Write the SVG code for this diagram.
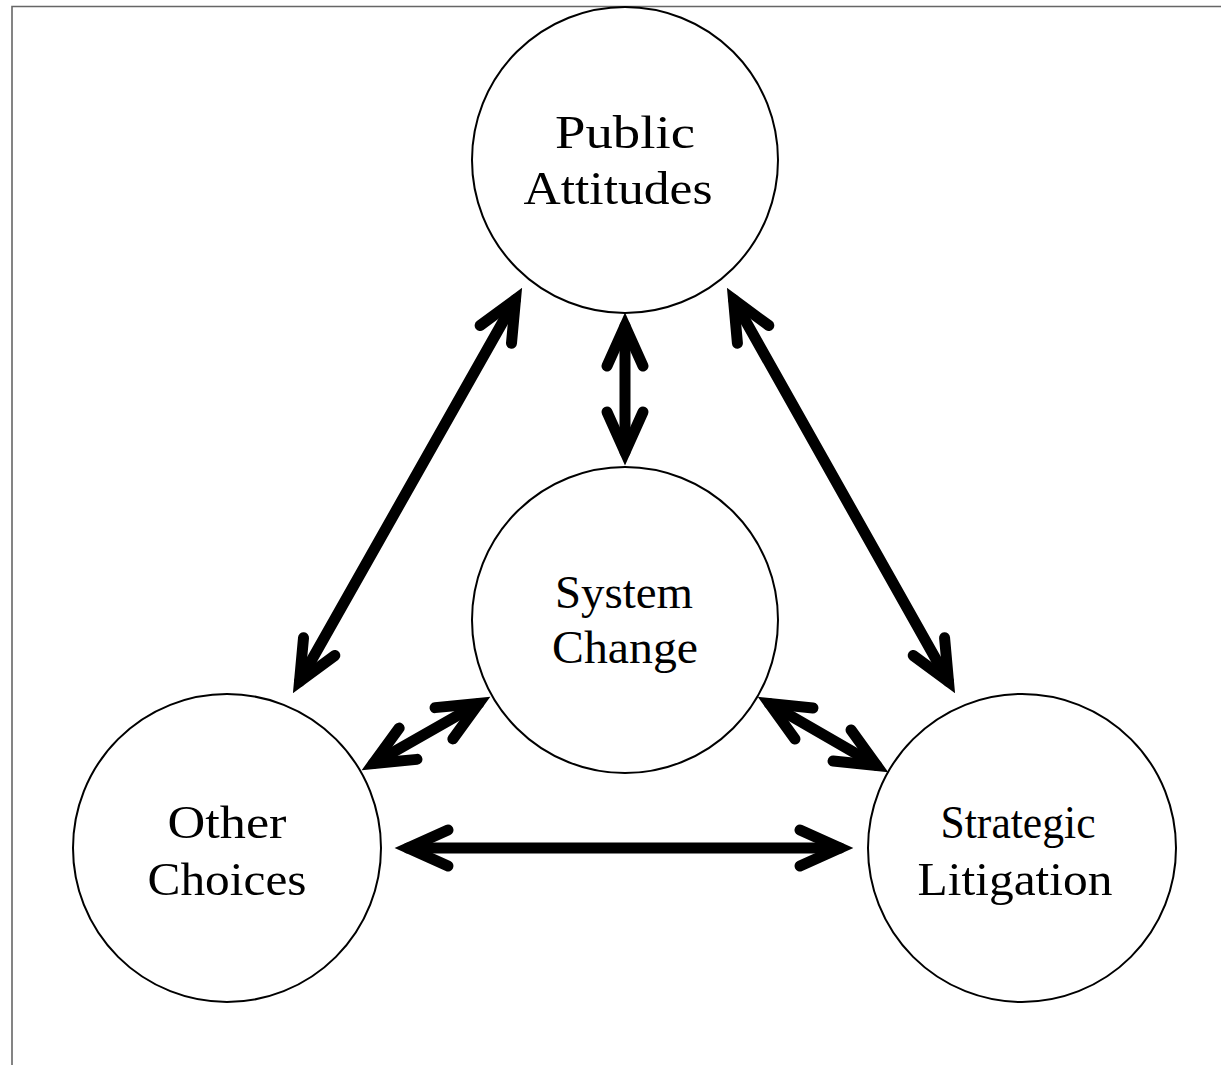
<svg xmlns="http://www.w3.org/2000/svg" width="1221" height="1065" viewBox="0 0 1221 1065">
<style>
.node circle{fill:#fff;stroke:#000;stroke-width:2}
.node text{font-family:"Liberation Serif","Times New Roman",serif;font-size:47px;fill:#000;text-anchor:middle}
.conn line{stroke:#000;stroke-width:11;stroke-linecap:round}
.frame{stroke:#666;stroke-width:1.6;fill:none}
</style>
<defs>
<marker id="ah" markerUnits="userSpaceOnUse" orient="auto-start-reverse" refX="0" refY="0" markerWidth="1" markerHeight="1" overflow="visible">
<path d="M-40,-18 L0,0 L-40,18" fill="none" stroke="#000" stroke-width="11" stroke-linecap="round" stroke-linejoin="miter" stroke-miterlimit="10"/>
</marker>
</defs>
<rect width="1221" height="1065" fill="#fff"/>
<path class="frame" d="M12,1065 L12,6.5 L1221,6.5"/>
<g id="public-attitudes" class="node">
<circle cx="625" cy="160" r="153"/>
<text x="625" y="148" textLength="140" lengthAdjust="spacingAndGlyphs">Public</text>
<text x="618" y="204" textLength="189" lengthAdjust="spacingAndGlyphs">Attitudes</text>
</g>
<g id="system-change" class="node">
<circle cx="625" cy="620" r="153"/>
<text x="624" y="608" textLength="138" lengthAdjust="spacingAndGlyphs">System</text>
<text x="625" y="663" textLength="146" lengthAdjust="spacingAndGlyphs">Change</text>
</g>
<g id="other-choices" class="node">
<circle cx="227" cy="848" r="154"/>
<text x="227" y="838" textLength="119" lengthAdjust="spacingAndGlyphs">Other</text>
<text x="227" y="895" textLength="159" lengthAdjust="spacingAndGlyphs">Choices</text>
</g>
<g id="strategic-litigation" class="node">
<circle cx="1022" cy="848" r="154"/>
<text x="1018" y="838" textLength="155" lengthAdjust="spacingAndGlyphs">Strategic</text>
<text x="1015" y="895" textLength="195" lengthAdjust="spacingAndGlyphs">Litigation</text>
</g>
<g id="connectors" class="conn">
<line x1="625" y1="326" x2="625" y2="452" marker-start="url(#ah)" marker-end="url(#ah)"/>
<line x1="515.5" y1="299.5" x2="299.5" y2="681.5" marker-start="url(#ah)" marker-end="url(#ah)"/>
<line x1="733.5" y1="299.5" x2="948.5" y2="681.5" marker-start="url(#ah)" marker-end="url(#ah)"/>
<line x1="408" y1="848" x2="840" y2="848" marker-start="url(#ah)" marker-end="url(#ah)"/>
<line x1="373.3" y1="763.5" x2="478.7" y2="703.5" marker-start="url(#ah)" marker-end="url(#ah)"/>
<line x1="769.3" y1="703.5" x2="876.7" y2="765.5" marker-start="url(#ah)" marker-end="url(#ah)"/>
</g>
</svg>
